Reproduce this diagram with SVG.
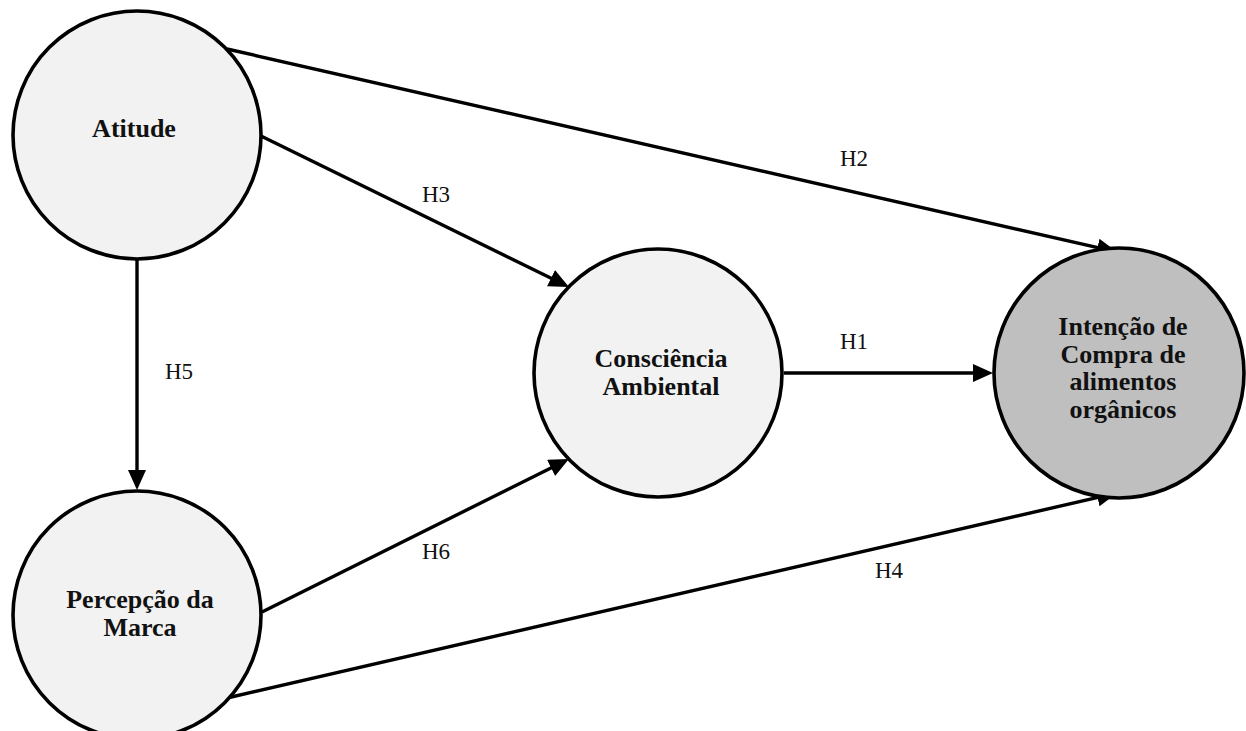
<svg xmlns="http://www.w3.org/2000/svg" width="1246" height="731" viewBox="0 0 1246 731">
<defs>
<style>
.node{stroke:#000;stroke-width:3.6}
.light{fill:#f2f2f2}
.dark{fill:#bfbfbf}
.lbl{font-family:"Liberation Serif","DejaVu Serif",serif;font-weight:bold;font-size:26px;fill:#111;text-anchor:middle}
.h{font-family:"Liberation Serif","DejaVu Serif",serif;font-size:23px;fill:#111;text-anchor:middle}
.edge{stroke:#000;stroke-width:3.4;fill:none;marker-end:url(#arr)}
</style>
<marker id="arr" markerUnits="userSpaceOnUse" markerWidth="22" markerHeight="20" refX="15" refY="9" orient="auto">
<path d="M0,0 L20,9 L0,18 Z" fill="#000"/>
</marker>
</defs>
<rect width="1246" height="731" fill="#fff"/>
<g id="connectors">
<line class="edge" x1="227" y1="49" x2="1112.1" y2="250.9"/>
<line class="edge" x1="261" y1="136" x2="564.5" y2="284.8"/>
<line class="edge" x1="137" y1="259" x2="137" y2="485"/>
<line class="edge" x1="262" y1="612" x2="564.5" y2="461.2"/>
<line class="edge" x1="227" y1="698" x2="1112.1" y2="494.1"/>
<line class="edge" x1="784" y1="373" x2="988" y2="373"/>
<text class="h" x="854" y="166">H2</text>
<text class="h" x="436" y="202">H3</text>
<text class="h" x="179" y="379">H5</text>
<text class="h" x="854" y="349">H1</text>
<text class="h" x="436" y="559">H6</text>
<text class="h" x="889" y="578">H4</text>
</g>
<g id="atitude">
<circle class="node light" cx="137" cy="135" r="124"/>
<text class="lbl" x="134" y="137">Atitude</text>
</g>
<g id="percepcao">
<circle class="node light" cx="137" cy="615" r="124"/>
<text class="lbl" x="140" y="608">Percepção da</text>
<text class="lbl" x="140" y="636">Marca</text>
</g>
<g id="consciencia">
<circle class="node light" cx="658" cy="373" r="124"/>
<text class="lbl" x="661" y="367">Consciência</text>
<text class="lbl" x="661" y="395">Ambiental</text>
</g>
<g id="intencao">
<circle class="node dark" cx="1119" cy="373" r="125"/>
<text class="lbl" x="1123" y="335">Intenção de</text>
<text class="lbl" x="1123" y="362.5">Compra de</text>
<text class="lbl" x="1123" y="390">alimentos</text>
<text class="lbl" x="1123" y="417.5">orgânicos</text>
</g>
</svg>
